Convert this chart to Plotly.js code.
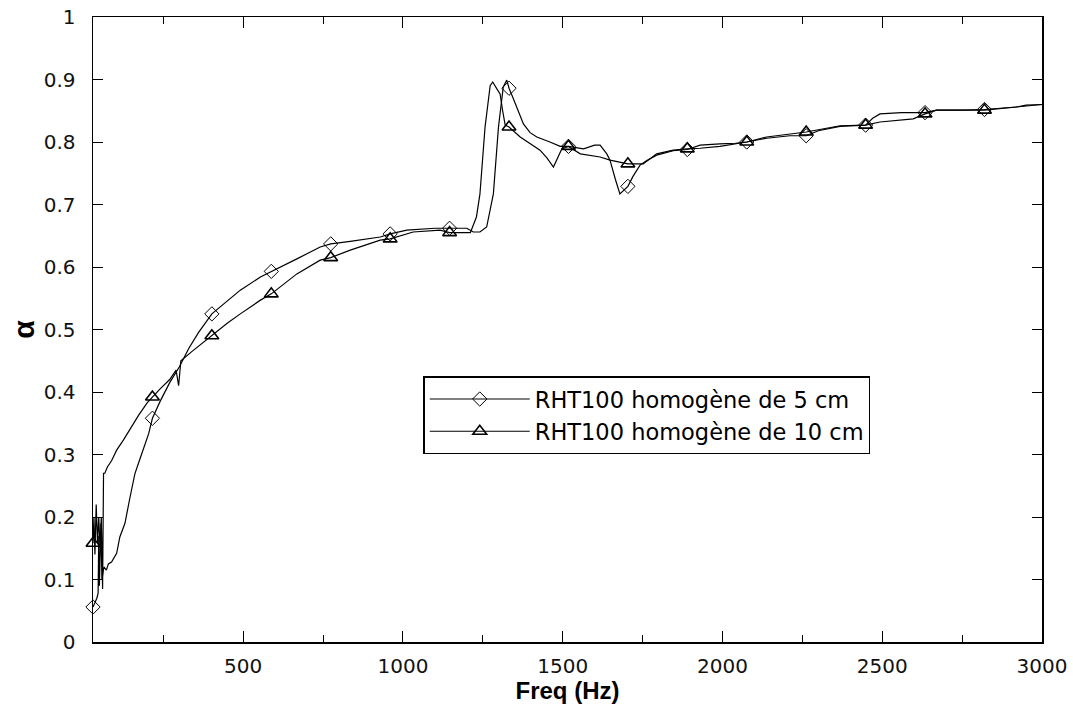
<!DOCTYPE html>
<html>
<head>
<meta charset="utf-8">
<script src="https://cdn.plot.ly/plotly-3.0.1.min.js"></script>
<style>html,body{margin:0;padding:0;background:#fff;}#chart{width:1073px;height:706px;}</style>
</head>
<body>
<div id="chart"></div>
<script>
// Series names
const name5 = "RHT100 homogène de 5 cm";
const name10 = "RHT100 homogène de 10 cm";

// Curve: 5 cm
const freq5 = [30,36,42,46,48,50,55,58,64,72,78,88,104,114,125,130,146,161,175,187,204,216,240,270,300,330,360,402,450,491,554,588,668,741,774,835,929,960,1012,1100,1146,1200,1220,1241,1262,1283,1299,1314,1325,1332,1345,1360,1377,1398,1419,1460,1492,1518,1565,1600,1617,1638,1648,1665,1679,1704,1720,1742,1762,1794,1846,1890,1930,1992,2040,2076,2138,2211,2262,2300,2368,2448,2470,2493,2560,2634,2670,2753,2820,2920,2950,3000];
const alpha5 = [0.056,0.062,0.07,0.078,0.17,0.09,0.19,0.10,0.12,0.115,0.125,0.128,0.142,0.168,0.185,0.19,0.232,0.269,0.29,0.309,0.333,0.358,0.385,0.415,0.44,0.47,0.495,0.525,0.545,0.563,0.584,0.593,0.613,0.632,0.637,0.641,0.648,0.653,0.659,0.662,0.662,0.662,0.656,0.656,0.664,0.717,0.824,0.888,0.899,0.886,0.87,0.85,0.829,0.815,0.808,0.80,0.793,0.793,0.789,0.795,0.795,0.781,0.771,0.74,0.717,0.729,0.745,0.763,0.77,0.779,0.786,0.788,0.795,0.797,0.798,0.80,0.806,0.81,0.81,0.818,0.825,0.827,0.838,0.845,0.847,0.847,0.851,0.851,0.852,0.856,0.859,0.86];

// Curve: 10 cm
const freq10 = [30,33,36,40,44,48,52,56,60,63,67,75,88,104,125,150,173,200,216,240,270,290,298,305,340,402,450,491,554,588,668,741,774,835,929,960,1032,1116,1146,1211,1230,1241,1257,1273,1281,1294,1304,1312,1320,1332,1367,1429,1450,1471,1497,1518,1555,1617,1648,1704,1752,1794,1846,1890,1930,1992,2076,2138,2211,2262,2368,2448,2493,2597,2634,2670,2753,2820,2920,3000];
const alpha10 = [0.158,0.2,0.14,0.22,0.16,0.20,0.15,0.2,0.085,0.27,0.27,0.28,0.29,0.307,0.323,0.345,0.363,0.383,0.392,0.405,0.42,0.435,0.41,0.45,0.465,0.49,0.51,0.525,0.547,0.557,0.589,0.611,0.615,0.627,0.643,0.645,0.656,0.659,0.655,0.655,0.68,0.717,0.824,0.89,0.896,0.885,0.877,0.85,0.827,0.824,0.808,0.787,0.775,0.76,0.789,0.793,0.781,0.776,0.771,0.765,0.765,0.781,0.787,0.789,0.79,0.793,0.80,0.808,0.813,0.816,0.826,0.827,0.832,0.837,0.845,0.851,0.851,0.851,0.856,0.86];

// Marker positions
const markFreq = [30,216,402,588,774,960,1146,1332,1518,1704,1890,2076,2262,2448,2634,2820];
const mark5 = [0.056,0.358,0.525,0.593,0.637,0.653,0.662,0.886,0.793,0.729,0.788,0.80,0.81,0.827,0.847,0.852];
const mark10 = [0.158,0.392,0.49,0.557,0.615,0.645,0.655,0.824,0.793,0.765,0.789,0.80,0.816,0.827,0.845,0.851];

const black = "#000";
const lineStyle = {color: black, width: 1.2};
const m5 = {symbol: "diamond-open", size: 11, color: black, line: {color: black, width: 1}};
const m10 = {symbol: "triangle-up-open", size: 12, color: black, line: {color: black, width: 1.6}};

const traces = [
  {x: freq5, y: alpha5, mode: "lines", line: lineStyle, showlegend: false, hoverinfo: "skip"},
  {x: freq10, y: alpha10, mode: "lines", line: lineStyle, showlegend: false, hoverinfo: "skip"},
  {x: markFreq, y: mark5, mode: "markers", marker: m5, showlegend: false, cliponaxis: false},
  {x: markFreq, y: mark10, mode: "markers", marker: m10, showlegend: false, cliponaxis: false},
  {x: [null], y: [null], mode: "lines+markers", line: lineStyle, marker: m5, name: name5},
  {x: [null], y: [null], mode: "lines+markers", line: lineStyle, marker: m10, name: name10}
];

const tickFont = {family: "DejaVu Sans, sans-serif", size: 20, color: "#111"};

const layout = {
  width: 1073, height: 706,
  margin: {l: 93, r: 31, t: 17, b: 64, pad: 0},
  paper_bgcolor: "#fff", plot_bgcolor: "#fff",
  font: {family: "DejaVu Sans, sans-serif", color: "#000"},
  xaxis: {
    range: [30, 3000], dtick: 500, tick0: 0,
    ticks: "inside", ticklen: 11, tickwidth: 1, tickcolor: black,
    minor: {dtick: 250, tick0: 0, ticks: "inside", ticklen: 7, tickcolor: black, tickwidth: 1},
    showline: true, linecolor: black, linewidth: 1.5, mirror: "ticks",
    showgrid: false, zeroline: false,
    tickfont: tickFont, ticklabelstandoff: 5,
    title: {text: "Freq (Hz)", font: {family: "Liberation Sans, Arial, sans-serif", size: 24, color: "#000", weight: "bold"}, standoff: 2},
    automargin: false
  },
  yaxis: {
    range: [0, 1], dtick: 0.1, tick0: 0,
    ticks: "inside", ticklen: 10, tickwidth: 1, tickcolor: black,
    showline: true, linecolor: black, linewidth: 1.5, mirror: "ticks",
    showgrid: false, zeroline: false,
    tickfont: tickFont, ticklabelstandoff: 12,
    title: {text: "α", font: {family: "Liberation Sans, Arial, sans-serif", size: 30, color: "#000", weight: "bold"}, standoff: 0},
    automargin: false
  },
  legend: {
    x: 0.348, y: 0.425, xanchor: "left", yanchor: "top",
    bgcolor: "#fff", bordercolor: black, borderwidth: 1.5,
    font: {family: "DejaVu Sans, sans-serif", size: 22.5, color: "#000"},
    itemwidth: 100
  },
  showlegend: true
};

Plotly.newPlot("chart", traces, layout, {staticPlot: true, displayModeBar: false});
</script>
</body>
</html>
